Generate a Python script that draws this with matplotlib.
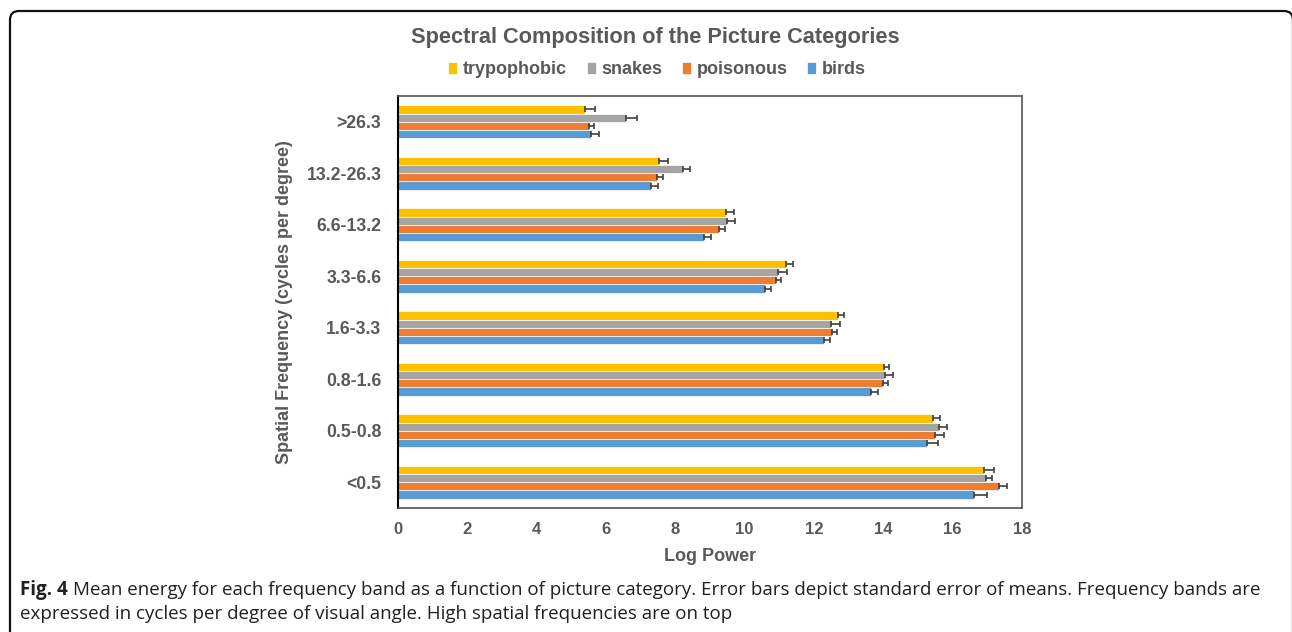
import matplotlib
matplotlib.use("Agg")
import matplotlib.pyplot as plt
import numpy as np
from matplotlib.patches import FancyBboxPatch

# bands, top to bottom (high spatial frequencies on top)
bands = [">26.3", "13.2-26.3", "6.6-13.2", "3.3-6.6", "1.6-3.3", "0.8-1.6", "0.5-0.8", "<0.5"]

trypophobic = [5.40, 7.54, 9.45, 11.20, 12.68, 14.01, 15.44, 16.90]
snakes = [6.59, 8.23, 9.50, 10.95, 12.48, 14.04, 15.60, 16.96]
poisonous = [5.52, 7.48, 9.27, 10.89, 12.51, 13.98, 15.50, 17.33]
birds = [5.58, 7.31, 8.84, 10.60, 12.28, 13.64, 15.26, 16.61]

trypophobic_err = [0.29, 0.24, 0.24, 0.20, 0.18, 0.14, 0.19, 0.30]
snakes_err = [0.29, 0.20, 0.23, 0.28, 0.28, 0.25, 0.23, 0.18]
poisonous_err = [0.14, 0.17, 0.15, 0.15, 0.15, 0.15, 0.24, 0.24]
birds_err = [0.23, 0.20, 0.18, 0.15, 0.17, 0.22, 0.31, 0.38]

x_ticks = [0, 2, 4, 6, 8, 10, 12, 14, 16, 18]

plt.rcParams["font.family"] = ["Liberation Sans", "DejaVu Sans"]
GREY = "#595959"

fig = plt.figure(figsize=(12.92, 6.32), dpi=100)
ax = fig.add_axes([398 / 1292, 1 - 508 / 632, (1022 - 398) / 1292, (508 - 96) / 632])

series = [
    ("trypophobic", trypophobic, trypophobic_err, "#FFC000"),
    ("snakes", snakes, snakes_err, "#A5A5A5"),
    ("poisonous", poisonous, poisonous_err, "#ED7D31"),
    ("birds", birds, birds_err, "#5B9BD5"),
]
h = 0.16
y = np.arange(len(bands))
for k, (name, vals, errs, col) in enumerate(series):
    pos = y + (k - 1.5) * h
    ax.barh(pos, vals, height=h, color=col, edgecolor="white", linewidth=0.5, label=name, zorder=2)
    ax.errorbar(vals, pos, xerr=[np.zeros(len(errs)), errs], fmt="none",
                ecolor="#404040", elinewidth=1.2, capsize=2.3, capthick=1.2, zorder=3)

ax.set_xlim(0, 18)
ax.set_ylim(len(bands) - 0.5, -0.5)
ax.set_xticks(x_ticks)
ax.set_yticks(y)
ax.set_yticklabels(bands)
ax.tick_params(length=0, labelcolor=GREY)
ax.tick_params(axis="x", pad=10, labelsize=12)
ax.tick_params(axis="y", pad=12, labelsize=12.7)
for lab in ax.get_xticklabels() + ax.get_yticklabels():
    lab.set_fontweight("bold")

for s in ["top", "right", "bottom"]:
    ax.spines[s].set_color("#555555")
    ax.spines[s].set_linewidth(1.2)
ax.spines["left"].set_color("black")
ax.spines["left"].set_linewidth(1.5)

ax.set_xlabel("Log Power", fontsize=13, fontweight="bold", color=GREY, labelpad=8)
ax.set_ylabel("Spatial Frequency (cycles per degree)", fontsize=13, fontweight="bold",
              color=GREY, labelpad=10)

fig.text(655 / 1292, 1 - 37 / 632, "Spectral Composition of the Picture Categories",
         ha="center", va="center", fontsize=15.7, fontweight="bold", color=GREY)

handles, labels = ax.get_legend_handles_labels()
fig.legend(handles, labels, loc="center", bbox_to_anchor=(657 / 1292, 1 - 70 / 632), ncol=4,
           frameon=False, prop={"size": 13, "weight": "bold"}, labelcolor=GREY,
           handlelength=0.5, handleheight=0.6, handletextpad=0.3, columnspacing=1.1)

# rounded frame around the figure panel
box = FancyBboxPatch((10, -30), 1283, 621 + 30, boxstyle="round,pad=0,rounding_size=9",
                     transform=None, facecolor="none", edgecolor="#111111", linewidth=1.6)
fig.patches.append(box)

# caption
cap_font = ["Open Sans", "DejaVu Sans"]
fig.canvas.draw()
renderer = fig.canvas.get_renderer()
t = fig.text(20 / 1292, 1 - 590 / 632, "Fig. 4", ha="left", va="center", fontsize=13.5,
             fontweight="bold", family=cap_font, color="#231F20")
bb = t.get_window_extent(renderer)
fig.text((bb.x1 + 5) / 1292, 1 - 590 / 632,
         "Mean energy for each frequency band as a function of picture category. Error bars depict "
         "standard error of means. Frequency bands are",
         ha="left", va="center", fontsize=13.5, family=cap_font, color="#231F20")
fig.text(20 / 1292, 1 - 614 / 632,
         "expressed in cycles per degree of visual angle. High spatial frequencies are on top",
         ha="left", va="center", fontsize=13.5, family=cap_font, color="#231F20")

fig.savefig("out.png", dpi=100)
